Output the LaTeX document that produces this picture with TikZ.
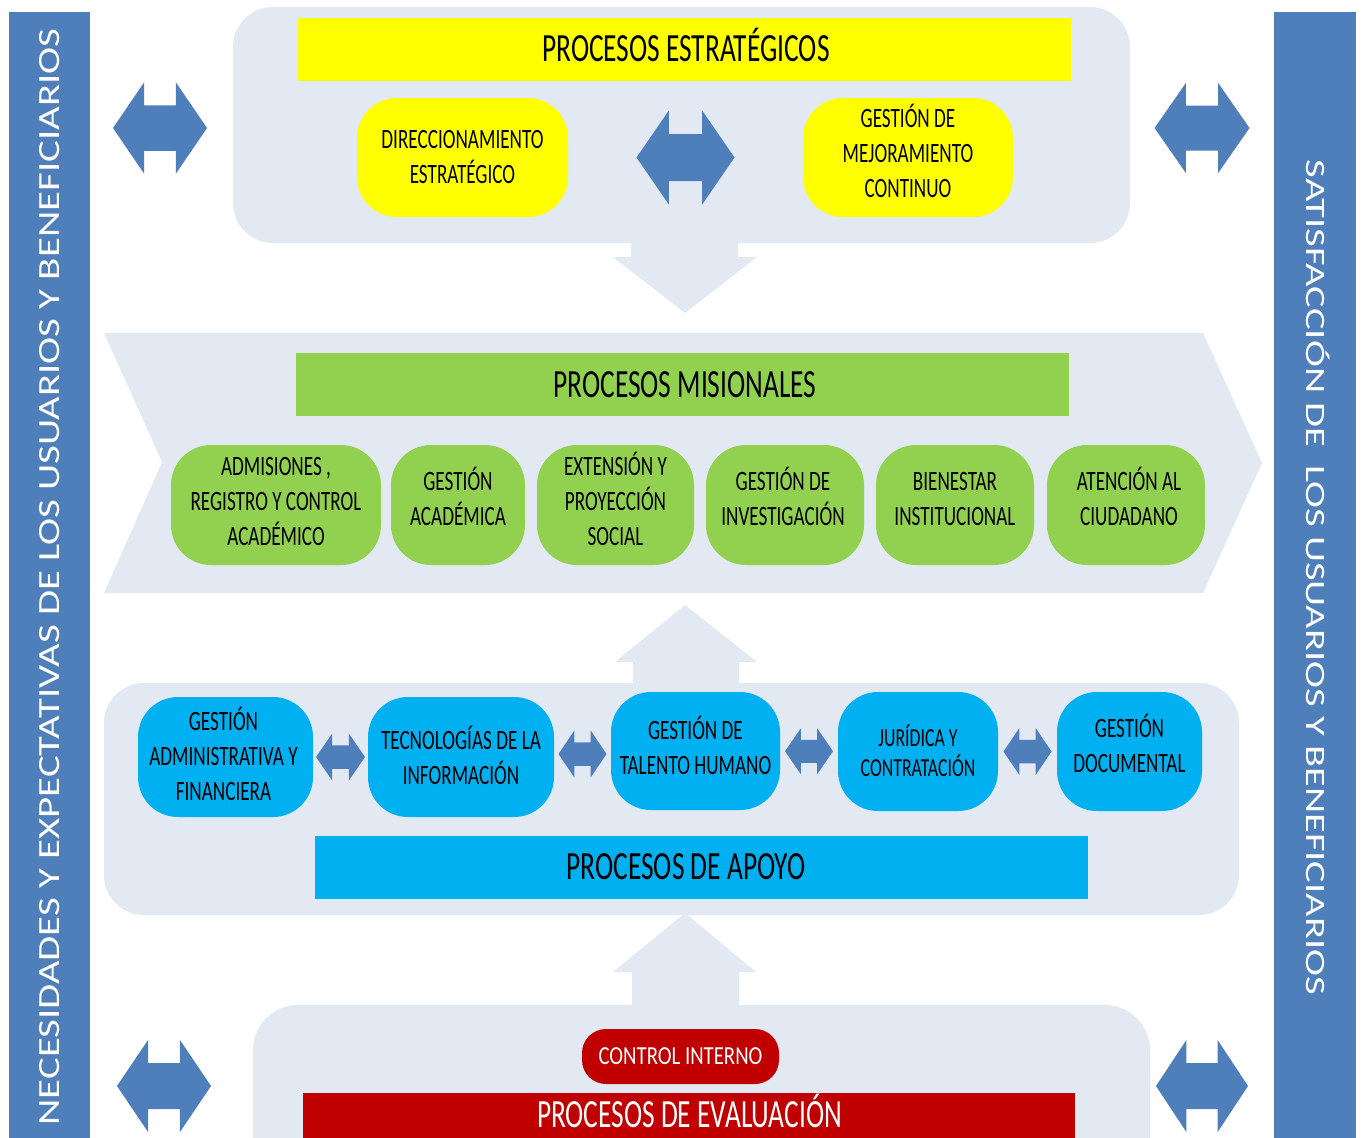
\documentclass[tikz,border=0pt]{standalone}
\usepackage{fontspec}
\usepackage{graphicx}
\setmainfont{Carlito}
\newfontfamily\cond[FakeStretch=0.685]{Carlito}
\newfontfamily\condw[FakeStretch=0.8]{Carlito}
\usetikzlibrary{calc}
\definecolor{panel}{RGB}{226,233,243}
\definecolor{barblue}{RGB}{79,127,187}
\definecolor{arrowblue}{RGB}{79,127,187}
\definecolor{procyellow}{RGB}{255,255,0}
\definecolor{procgreen}{RGB}{146,208,80}
\definecolor{proccyan}{RGB}{0,176,240}
\definecolor{procred}{RGB}{192,0,0}
\newcommand\dblarr[3]{%
  \begin{scope}[shift={#1},xscale=#2,yscale=#3]
    \fill[arrowblue] (-0.5,0) -- (-0.17,-0.5) -- (-0.17,-0.25) -- (0.17,-0.25) -- (0.17,-0.5)
      -- (0.5,0) -- (0.17,0.5) -- (0.17,0.25) -- (-0.17,0.25) -- (-0.17,0.5) -- cycle;
  \end{scope}}
\tikzset{
  pbox/.style={rounded corners=40pt, inner sep=0pt},
  ybox/.style={pbox, fill=procyellow},
  gbox/.style={pbox, fill=procgreen, minimum height=120pt},
  cbox/.style={pbox, fill=proccyan},
  btext/.style={inner sep=0pt, align=center, text=black,
    font=\cond\fontsize{28}{35}\selectfont},
  titlebar/.style={inner sep=0pt, minimum width=773pt, minimum height=63pt},
  titletext/.style={inner sep=0pt, text=black, font=\cond\fontsize{40}{40}\selectfont},
  sidetxt/.style={inner sep=0pt, text=white, font=\fontsize{31}{31}\selectfont},
}
\begin{document}
\begin{tikzpicture}[x=1pt,y=-1pt]
\useasboundingbox (0,0) rectangle (1363,1138);
\clip (0,0) rectangle (1363,1138);
\fill[white] (0,0) rectangle (1363,1138);

% side bars
\fill[barblue] (9,12) rectangle (90,1145);
\fill[barblue] (1274,12) rectangle (1356,1145);
\node[sidetxt, rotate=90] (need) at (50,577)
  {\resizebox{1097pt}{20pt}{NECESIDADES Y EXPECTATIVAS DE LOS USUARIOS Y BENEFICIARIOS}};
\node[sidetxt, rotate=-90] (sat) at (1318,577.5)
  {\fontsize{28}{28}\selectfont\resizebox{835pt}{\height}{SATISFACCIÓN DE\ \ LOS USUARIOS Y BENEFICIARIOS}};

% background panels and flow arrows
\fill[panel, rounded corners=40pt] (233,7) rectangle (1130,243);
\fill[panel] (631,235) -- (738,235) -- (738,257) -- (757,257) -- (685,313) -- (613,257) -- (631,257) -- cycle;
\fill[panel] (104,333) -- (1203,333) -- (1262,463) -- (1203,593) -- (104,593) -- (162,462) -- cycle;
\fill[panel] (685,605) -- (757,662) -- (739,662) -- (739,690) -- (633,690) -- (633,662) -- (615,662) -- cycle;
\fill[panel, rounded corners=40pt] (104,683) rectangle (1239,915);
\fill[panel] (685,913) -- (756,972) -- (739,972) -- (739,1012) -- (632,1012) -- (632,972) -- (613,972) -- cycle;
\fill[panel, rounded corners=45pt] (253,1005) rectangle (1150,1230);

% strategic
\node[titlebar, fill=procyellow] (est) at (684.5,49.5) {};
\node[titletext] (estT) at ($(est.center)+(1.5,-5)$) {PROCESOS ESTRATÉGICOS};
\node[ybox, minimum width=211pt, minimum height=119pt] (de) at (462.5,157.5) {};
\node[btext] (deT) at (de.center) {DIRECCIONAMIENTO\\ESTRATÉGICO};
\node[ybox, minimum width=210pt, minimum height=119pt] (gm) at (908,157.5) {};
\node[btext] (gmT) at ($(gm.center)+(0,-7)$) {GESTIÓN DE\\MEJORAMIENTO\\CONTINUO};
\dblarr{($(de.east)!0.5!(gm.west)$)}{98}{94}
\dblarr{(160,128)}{94}{91}
\dblarr{(1202,128)}{95}{90}

% misional
\node[titlebar, fill=procgreen] (mis) at (682.5,384.5) {};
\node[titletext] (misT) at ($(mis.center)+(2.5,0)$) {PROCESOS MISIONALES};
\node[gbox, minimum width=210pt] (adm) at (276,505) {};
\node[btext] (admT) at ($(adm.center)+(0,-3)$) {ADMISIONES ,\\REGISTRO Y CONTROL\\ACADÉMICO};
\node[gbox, minimum width=134pt] (gac) at (458,505) {};
\node[btext] (gacT) at ($(gac.center)+(0,-9)$) {GESTIÓN\\ACADÉMICA};
\node[gbox, minimum width=157pt] (ext) at (615.5,505) {};
\node[btext] (extT) at ($(ext.center)+(0,-6)$) {EXTENSIÓN Y\\PROYECCIÓN\\SOCIAL};
\node[gbox, minimum width=158pt] (inv) at (785,505) {};
\node[btext] (invT) at ($(inv.center)+(-2,-9)$) {GESTIÓN DE\\INVESTIGACIÓN};
\node[gbox, minimum width=158pt] (bie) at (955,505) {};
\node[btext] (bieT) at ($(bie.center)+(0,-6)$) {BIENESTAR\\INSTITUCIONAL};
\node[gbox, minimum width=158pt] (ate) at (1126,505) {};
\node[btext] (ateT) at ($(ate.center)+(3,-9)$) {ATENCIÓN AL\\CIUDADANO};

% apoyo
\node[cbox, minimum width=175pt, minimum height=120pt] (gaf) at (225.5,757) {};
\node[btext] (gafT) at ($(gaf.center)+(-2,-3.5)$) {GESTIÓN\\ADMINISTRATIVA Y\\FINANCIERA};
\node[cbox, minimum width=186pt, minimum height=120pt] (tin) at (461,757) {};
\node[btext] (tinT) at ($(tin.center)+(0,-2)$) {TECNOLOGÍAS DE LA\\INFORMACIÓN};
\node[cbox, minimum width=169pt, minimum height=118pt] (tal) at (695.5,751) {};
\node[btext] (talT) at ($(tal.center)+(0,-6)$) {GESTIÓN DE\\TALENTO HUMANO};
\node[cbox, minimum width=160pt, minimum height=119pt] (jur) at (918,751.5) {};
\node[btext, font=\cond\fontsize{26}{30}\selectfont] (jurT) at ($(jur.center)+(0,-1)$) {JURÍDICA Y\\CONTRATACIÓN};
\node[cbox, minimum width=145pt, minimum height=119pt] (gdo) at (1129.5,751.5) {};
\node[btext] (gdoT) at ($(gdo.center)+(0,-8)$) {GESTIÓN\\DOCUMENTAL};
\dblarr{($(gaf.east)!0.5!(tin.west)$)}{49}{47}
\dblarr{($(tin.east)!0.5!(tal.west)$)}{48}{47}
\dblarr{($(tal.east)!0.5!(jur.west)$)}{48}{46}
\dblarr{($(jur.east)!0.5!(gdo.west)$)}{48}{47}
\node[titlebar, fill=proccyan] (apo) at (701.5,867) {};
\node[titletext] (apoT) at (686,867) {PROCESOS DE APOYO};

% evaluacion
\node[pbox, fill=procred, rounded corners=24pt, minimum width=197pt,
  minimum height=55pt] (cin) at (680.5,1056.5) {};
\node[inner sep=0pt, text=white, font=\condw\fontsize{26}{26}\selectfont] (cinT) at (cin.center) {CONTROL INTERNO};
\node[fill=procred, inner sep=0pt, minimum width=772pt, minimum height=60pt, anchor=north] (evb) at (689,1093) {};
\node[inner sep=0pt, text=white, font=\cond\fontsize{40}{40}\selectfont] (eva) at (689.5,1111) {PROCESOS DE EVALUACIÓN};
\dblarr{(164,1086)}{94}{92}
\dblarr{(1202,1086)}{92}{92}
\end{tikzpicture}
\end{document}
